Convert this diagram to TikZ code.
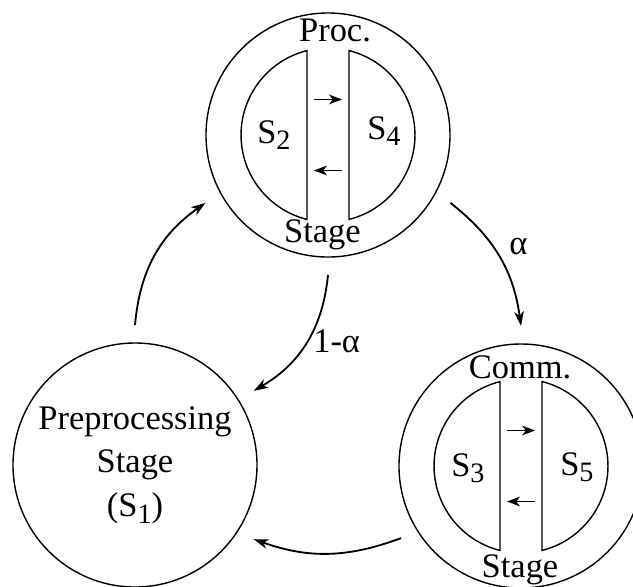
\documentclass[tikz,border=0pt]{standalone}
\usepackage{fontspec}
\setmainfont{Liberation Serif}
\usetikzlibrary{arrows.meta,calc}

\newcommand{\lsub}[1]{\raisebox{-0.2em}{\fontsize{20}{20}\selectfont #1}}

\tikzset{
  stagecircle/.style={draw, circle, line width=1pt, minimum size=6.1cm, inner sep=0pt, outer sep=0.45cm, align=center},
  flow/.style={-{Stealth[length=0.36cm,width=0.24cm,inset=0.1cm]}, line width=1.3pt, bend left=#1},
  xchg/.style={-{Stealth[length=0.32cm,width=0.24cm,inset=0.09cm]}, line width=1.4pt},
  seg/.style={line width=1pt},
}

\begin{document}
\begin{tikzpicture}[font=\fontsize{24.5}{30.9}\selectfont]
    \useasboundingbox (0,0) rectangle (15.825,-14.65);

    % Draw the three stages
    \node[stagecircle] (proc) at (8.2,-3.375) {};
    \node[stagecircle] (pre) at (3.375,-11.625) {Preprocessing\\Stage\\(S\lsub{1})};
    \node[stagecircle] (comm) at (13.025,-11.65) {};

    % Draw the split inner circles and the exchange arrows
    \foreach \s in {proc,comm} {
        \draw[seg] ($(\s)+(-0.525,2.11)$) arc[start angle=104, end angle=256, radius=2.175] -- cycle;
        \draw[seg] ($(\s)+(0.525,-2.11)$) arc[start angle=-76, end angle=76, radius=2.175] -- cycle;
        \draw[xchg] ($(\s)+(-0.35,0.8875)$) -- ($(\s)+(0.35,0.8875)$);
        \draw[xchg] ($(\s)+(0.35,-0.8875)$) -- ($(\s)+(-0.35,-0.8875)$);
    }

    % Add stage labels
    \node[anchor=base] (proctop) at (8.375,-1.025) {Proc.};
    \node[anchor=base] (procbot) at (8.06,-6.05) {Stage};
    \node[anchor=base] (commtop) at (13.0,-9.45) {Comm.};
    \node[anchor=base] (commbot) at (13.0,-14.425) {Stage};
    \node[anchor=base west, inner sep=0pt] (s2) at (6.425,-3.575) {S\lsub{2}};
    \node[anchor=base west, inner sep=0pt] (s4) at (9.175,-3.475) {S\lsub{4}};
    \node[anchor=base west, inner sep=0pt] (s3) at (11.275,-11.9) {S\lsub{3}};
    \node[anchor=base west, inner sep=0pt] (s5) at (14.0,-11.875) {S\lsub{5}};

    % Draw the transitions
    \draw[flow=25] (pre.90) to (proc.209);
    \draw[flow=27] (proc.270) to (pre.32);
    \draw[flow=22] (proc.-29) to (comm.90);
    \draw[flow=20] (comm.211) to (pre.-32);

    % Add probabilities
    \node[anchor=base west, inner sep=0pt] (palpha) at (12.725,-6.35) {α};
    \node[anchor=base west, inner sep=0pt] (qalpha) at (7.825,-8.82) {1-α};
\end{tikzpicture}
\end{document}
